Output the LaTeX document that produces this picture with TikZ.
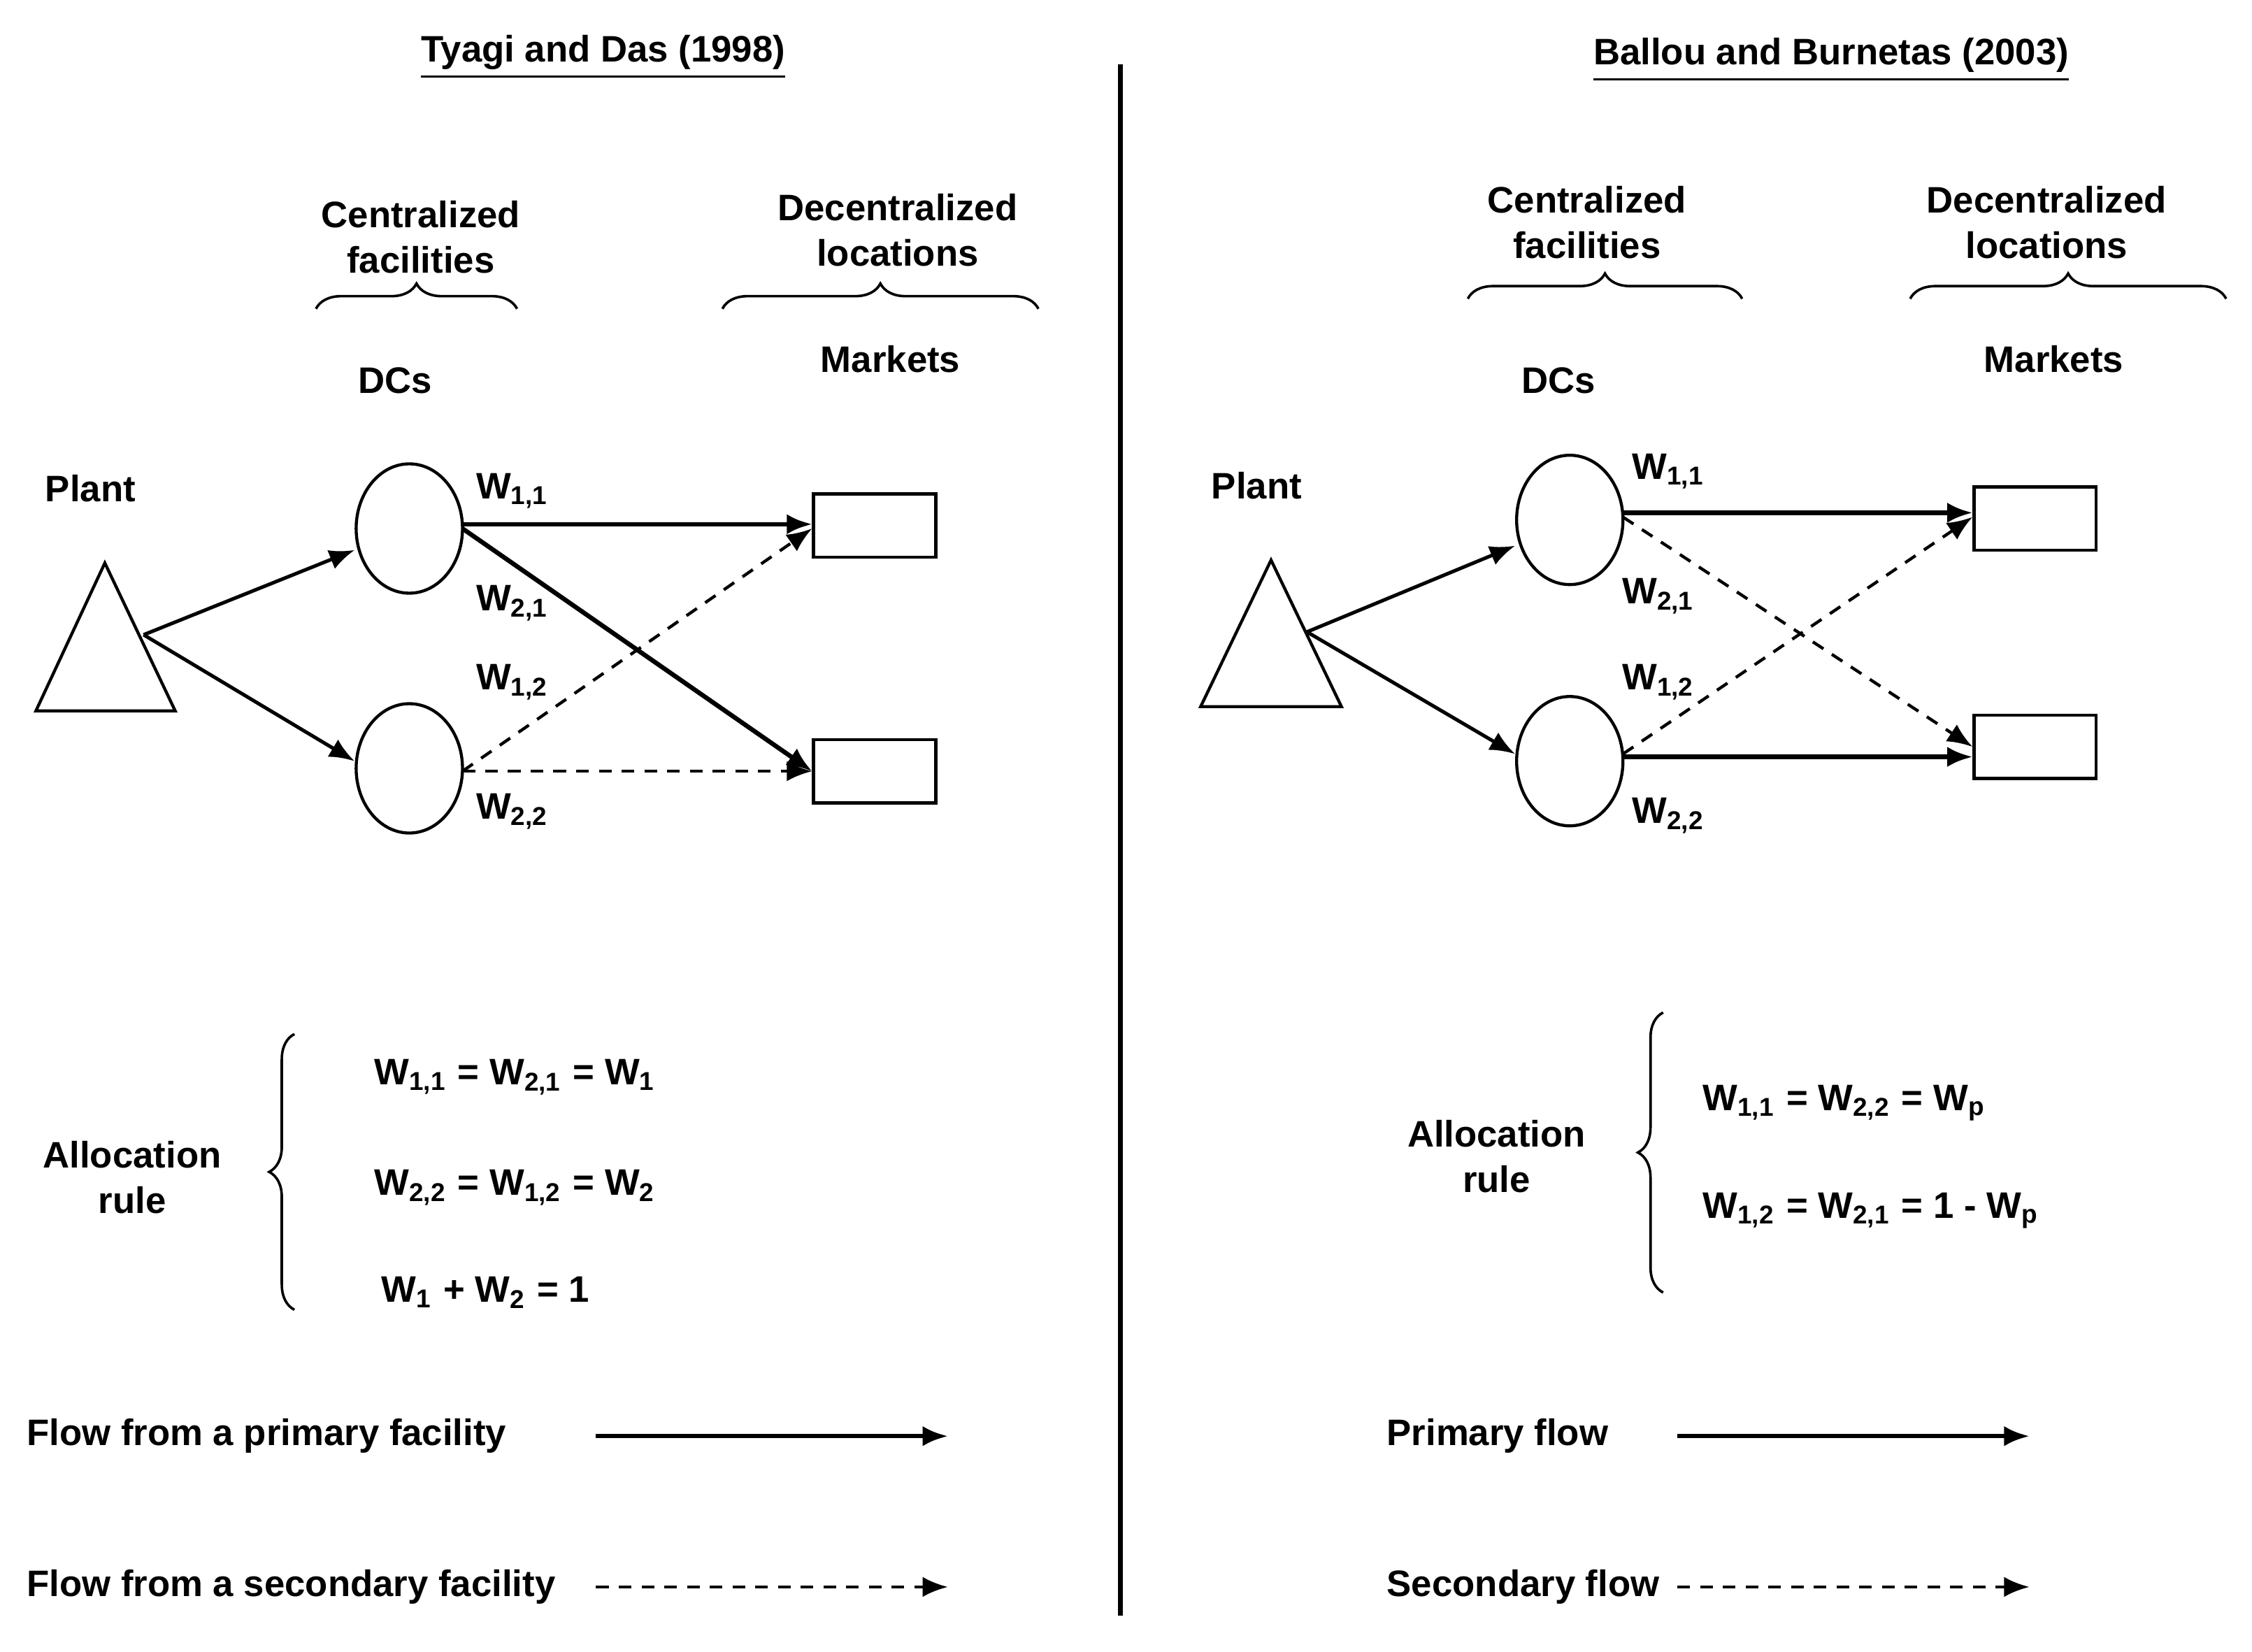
\documentclass[tikz,border=0pt]{standalone}
\usepackage{fontspec}
\setmainfont{Liberation Sans}
\usetikzlibrary{decorations.pathreplacing,arrows.meta,shapes.geometric}
\newcommand{\ws}[1]{W\textsubscript{#1}}
\begin{document}
\begin{tikzpicture}[x=0.01cm,y=-0.01cm,
 txt/.style={font=\fontsize{7.3}{9}\selectfont\bfseries,align=center,inner sep=0pt},
 sol/.style={line width=0.9pt,-{Latex[length=5pt,width=4pt]}},
 das/.style={line width=0.6pt,dash pattern=on 2.5pt off 2pt,-{Latex[length=5pt,width=4pt]}},
 pl/.style={line width=0.7pt,-{Latex[length=5pt,width=4pt]}},
 dc/.style={draw,ellipse,line width=0.6pt,minimum width=0.74cm,minimum height=0.9cm,inner sep=0pt},
 mk/.style={draw,line width=0.6pt,minimum width=0.85cm,minimum height=0.44cm,inner sep=0pt},
 br/.style={decorate,decoration={brace,amplitude=5pt},line width=0.5pt}]
\useasboundingbox (0,0) rectangle (1568,1150);
\draw[line width=1pt] (780,45) coordinate (d1) -- (780,1125) coordinate (d2);
% Left
\node[txt] (t1) at (420,40) {\underline{Tyagi and Das (1998)}};
\node[txt] (cf1) at (293,165) {Centralized\\facilities};
\node[txt] (dl1) at (625,160) {Decentralized\\locations};
\draw[br] (220,215) -- (360,215);
\draw[br] (503,215) -- (723,215);
\node[txt] (dcs1) at (275,265) {DCs};
\node[txt] (mk1) at (620,250) {Markets};
\node[txt] (pl1) at (63,340) {Plant};
\draw[line width=0.6pt] (25,495) -- (122,495) -- (73,392) -- cycle;
\coordinate (p1) at (100,442);
\node[dc] (a1) at (285,368) {};
\node[dc] (a2) at (285,535) {};
\node[mk] (m1) at (609,366) {};
\node[mk] (m2) at (609,537) {};
\draw[pl] (p1) -- (a1.west|-0,383);
\draw[pl] (p1) -- (a2.west|-0,530);
\draw[sol] (322,365) -- (m1.west|-0,365);
\draw[sol] (322,368) -- (m2.west|-0,537);
\draw[das] (322,537) -- (m1.west|-0,368);
\draw[das] (322,537) -- (m2.west);
\node[txt] (l11) at (357,342) {\ws{1,1}};
\node[txt] (l21) at (357,420) {\ws{2,1}};
\node[txt] (l12) at (357,475) {\ws{1,2}};
\node[txt] (l22) at (357,565) {\ws{2,2}};
\node[txt] (ar1) at (92,820) {Allocation\\rule};
\draw[br] (205,912) -- (205,720);
\node[txt,anchor=west] (e1) at (260,750) {\ws{1,1} = \ws{2,1} = \ws{1}};
\node[txt,anchor=west] (e2) at (260,827) {\ws{2,2} = \ws{1,2} = \ws{2}};
\node[txt,anchor=west] (e3) at (265,900) {\ws{1} + \ws{2} = 1};
\node[txt,anchor=west] (lg1) at (18,1000) {Flow from a primary facility};
\node[txt,anchor=west] (lg2) at (18,1105) {Flow from a secondary facility};
\coordinate (s1) at (415,1000); \coordinate (s2) at (660,1000);
\coordinate (s3) at (415,1105); \coordinate (s4) at (660,1105);
\draw[sol] (s1) -- (s2);
\draw[das] (s3) -- (s4);
% Right
\node[txt] (t2) at (1275,42) {\underline{Ballou and Burnetas (2003)}};
\node[txt] (cf2) at (1105,155) {Centralized\\facilities};
\node[txt] (dl2) at (1425,155) {Decentralized\\locations};
\draw[br] (1022,208) -- (1213,208);
\draw[br] (1330,208) -- (1550,208);
\node[txt] (dcs2) at (1085,265) {DCs};
\node[txt] (mk2) at (1430,250) {Markets};
\node[txt] (pl2) at (875,338) {Plant};
\draw[line width=0.6pt] (836,492) -- (934,492) -- (885,390) -- cycle;
\coordinate (p2) at (910,440);
\node[dc] (b1) at (1093,362) {};
\node[dc] (b2) at (1093,530) {};
\node[mk] (n1) at (1417,361) {};
\node[mk] (n2) at (1417,520) {};
\draw[pl] (p2) -- (b1.west|-0,380);
\draw[pl] (p2) -- (b2.west|-0,525);
\draw[sol] (1130,357) -- (n1.west|-0,357);
\draw[sol] (1130,527) -- (n2.west|-0,527);
\draw[das] (1130,360) -- (n2.west|-0,520);
\draw[das] (1130,525) -- (n1.west|-0,360);
\node[txt] (k11) at (1162,328) {\ws{1,1}};
\node[txt] (k21) at (1155,415) {\ws{2,1}};
\node[txt] (k12) at (1155,475) {\ws{1,2}};
\node[txt] (k22) at (1162,568) {\ws{2,2}};
\node[txt] (ar2) at (1042,805) {Allocation\\rule};
\draw[br] (1158,900) -- (1158,705);
\node[txt,anchor=west] (f1) at (1185,768) {\ws{1,1} = \ws{2,2} = \ws{p}};
\node[txt,anchor=west] (f2) at (1185,843) {\ws{1,2} = \ws{2,1} = 1 - \ws{p}};
\node[txt,anchor=west] (lg3) at (965,1000) {Primary flow};
\node[txt,anchor=west] (lg4) at (965,1105) {Secondary flow};
\coordinate (u1) at (1168,1000); \coordinate (u2) at (1413,1000);
\coordinate (u3) at (1168,1105); \coordinate (u4) at (1413,1105);
\draw[sol] (u1) -- (u2);
\draw[das] (u3) -- (u4);
\end{tikzpicture}
\end{document}
